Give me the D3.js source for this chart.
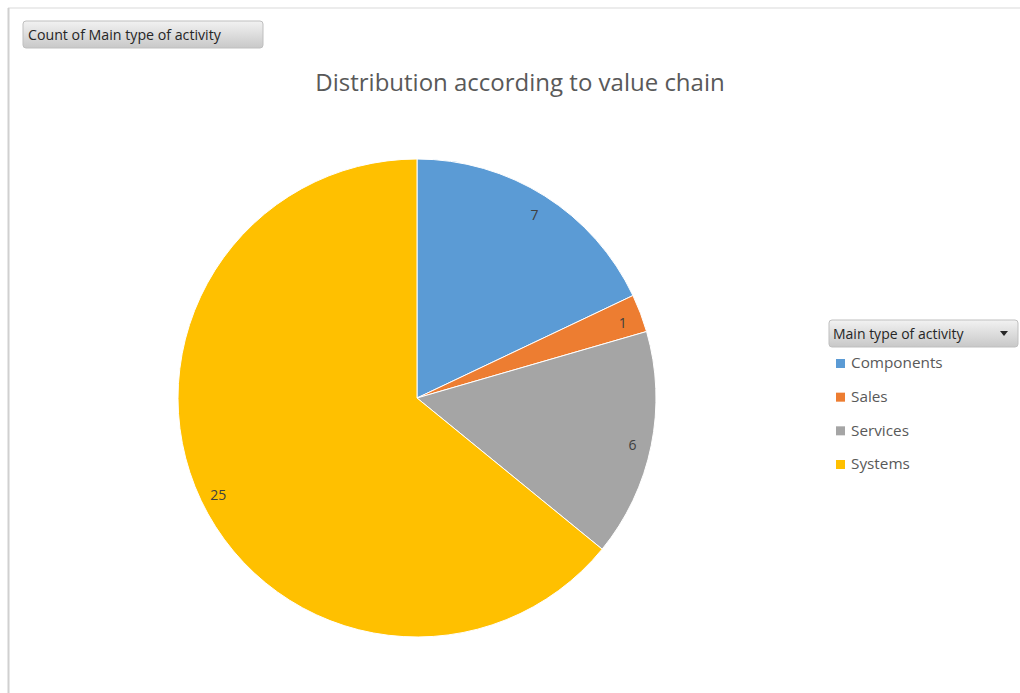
<!DOCTYPE html>
<html>
<head>
<meta charset="utf-8">
<script src="https://cdn.jsdelivr.net/npm/d3@7"></script>
<style>
  body { margin: 0; background: #fff; }
  text { font-family: "Open Sans", "Noto Sans", sans-serif; }
</style>
</head>
<body>
<script>
let categories = ["Components", "Sales", "Services", "Systems"];
let counts = [7, 1, 6, 25];
let colors = ["#5B9BD5", "#ED7D31", "#A5A5A5", "#FFC000"];
let chartTitle = "Distribution according to value chain";
let fieldButton = "Count of Main type of activity";
let legendTitle = "Main type of activity";

function main() {
    let svg = d3.select("body").append("svg")
        .attr("width", 1020)
        .attr("height", 693);

    let defs = svg.append("defs");
    let grad = defs.append("linearGradient")
        .attr("id", "btn").attr("x1", 0).attr("y1", 0).attr("x2", 0).attr("y2", 1);
    grad.append("stop").attr("offset", "0%").attr("stop-color", "#f2f2f2");
    grad.append("stop").attr("offset", "100%").attr("stop-color", "#c8c8c8");

    // frame lines
    svg.append("line").attr("x1", 8).attr("y1", 8).attr("x2", 1020).attr("y2", 8)
        .attr("stroke", "#d9d9d9");
    svg.append("line").attr("x1", 8.5).attr("y1", 8).attr("x2", 8.5).attr("y2", 693)
        .attr("stroke", "#d0d0d0").attr("stroke-width", 2);

    // field button top-left
    svg.append("rect")
        .attr("x", 23).attr("y", 21).attr("width", 240).attr("height", 27).attr("rx", 3)
        .attr("fill", "url(#btn)").attr("stroke", "#bfbfbf");
    svg.append("text")
        .attr("x", 28).attr("y", 40)
        .attr("fill", "#262626").style("font-size", "14.2px")
        .text(fieldButton);

    svg.append("text")
        .attr("x", 520).attr("y", 91)
        .attr("text-anchor", "middle")
        .attr("fill", "#595959").style("font-size", "24px")
        .text(chartTitle);

    let radius = 239;
    let g = svg.append("g").attr("transform", "translate(417,398)");

    let pie = d3.pie().sort(null).value(d => d);
    let arcs = pie(counts);
    let arc = d3.arc().innerRadius(0).outerRadius(radius);
    let labelArc = d3.arc().innerRadius(220).outerRadius(220);
    let color = d3.scaleOrdinal().domain(categories).range(colors);

    g.selectAll("path")
        .data(arcs)
        .enter()
        .append("path")
        .attr("d", arc)
        .attr("fill", (d, i) => color(categories[i]))
        .attr("stroke", "#fff")
        .attr("stroke-width", 1);

    g.selectAll("text.lbl")
        .data(arcs)
        .enter()
        .append("text")
        .attr("class", "lbl")
        .attr("transform", d => `translate(${labelArc.centroid(d)})`)
        .attr("text-anchor", "middle")
        .attr("dy", "0.55em")
        .attr("fill", "#404040")
        .style("font-size", "14px")
        .text(d => d.data);

    // legend
    svg.append("rect")
        .attr("x", 829).attr("y", 320).attr("width", 189).attr("height", 27).attr("rx", 3)
        .attr("fill", "url(#btn)").attr("stroke", "#bfbfbf");
    svg.append("text")
        .attr("x", 833).attr("y", 339)
        .attr("fill", "#262626").style("font-size", "14px")
        .text(legendTitle);
    svg.append("path")
        .attr("d", "M1000,331 L1008,331 L1004,336 Z")
        .attr("fill", "#262626");

    let legendY = d3.scalePoint().domain(categories).range([363, 464]);
    let items = svg.selectAll("g.leg")
        .data(categories)
        .enter()
        .append("g")
        .attr("class", "leg")
        .attr("transform", d => `translate(836,${legendY(d)})`);
    items.append("rect")
        .attr("x", 0).attr("y", -4).attr("width", 9).attr("height", 9)
        .attr("fill", d => color(d));
    items.append("text")
        .attr("x", 15).attr("y", 0).attr("dy", "0.35em")
        .attr("fill", "#595959").style("font-size", "15.3px")
        .text(d => d);
}

main()
</script>
</body>
</html>
